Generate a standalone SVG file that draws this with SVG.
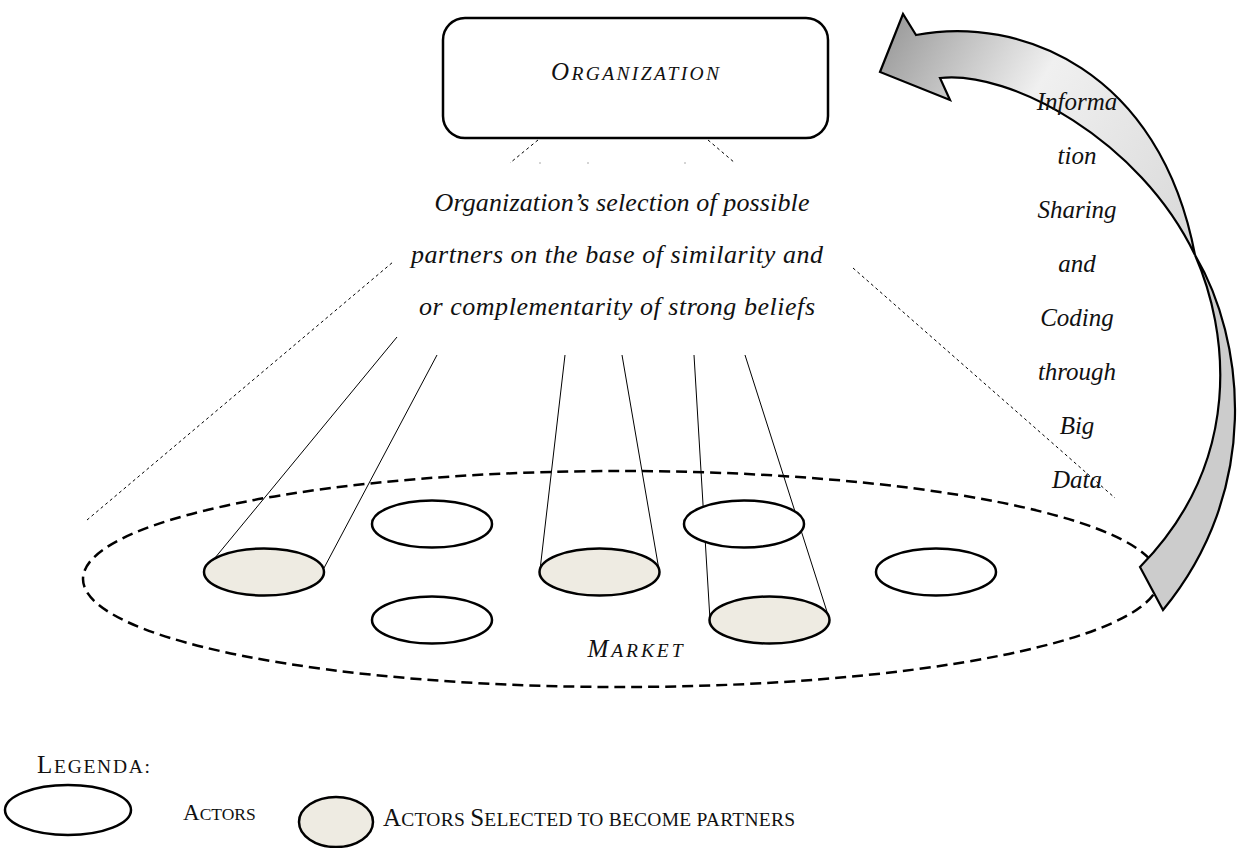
<svg xmlns="http://www.w3.org/2000/svg" width="1240" height="848" viewBox="0 0 1240 848">
<defs>
<linearGradient id="arrowGrad" gradientUnits="userSpaceOnUse" x1="880" y1="60" x2="1195" y2="255">
<stop offset="0" stop-color="#a0a0a0"/>
<stop offset="0.4" stop-color="#f0f0f0"/>
<stop offset="1" stop-color="#d8d8d8"/>
</linearGradient>
<style>
.it{font-family:"Liberation Serif","Times New Roman",serif;font-style:italic;font-size:26px;fill:#111}
.col{font-size:25px}
.sc{font-family:"Liberation Serif","Times New Roman",serif;fill:#111}
.big{font-size:25px}
.sm{font-size:19.5px}
.big2{font-size:23px}
.sm2{font-size:17.5px}
.actor{fill:#fff;stroke:#000;stroke-width:2.5}
.sel{fill:#eeebe2;stroke:#000;stroke-width:2.5}
.solid{stroke:#000;stroke-width:1;fill:none}
.dot{stroke:#000;stroke-width:1;fill:none;stroke-dasharray:3 3}
.market{fill:none;stroke:#000;stroke-width:2.5;stroke-dasharray:11 6}
</style>
</defs>
<rect width="1240" height="848" fill="#fff"/>

<g id="connectors">
<line class="dot" x1="538" y1="140" x2="510" y2="163"/>
<line class="dot" x1="708" y1="140" x2="735" y2="163"/>
<line x1="539" y1="163" x2="541" y2="163" stroke="#aaa" stroke-width="1"/>
<line x1="587" y1="163" x2="589" y2="163" stroke="#aaa" stroke-width="1"/>
<line x1="684" y1="163" x2="686" y2="163" stroke="#aaa" stroke-width="1"/>
<line class="dot" x1="87" y1="520" x2="393" y2="262"/>
<line class="dot" x1="853" y1="268" x2="1115" y2="498"/>
<line class="solid" x1="397" y1="337" x2="205" y2="570"/>
<line class="solid" x1="437" y1="355" x2="324" y2="568"/>
<line class="solid" x1="565" y1="355" x2="540" y2="570"/>
<line class="solid" x1="622" y1="355" x2="659" y2="570"/>
<line class="solid" x1="694" y1="355" x2="710" y2="620"/>
<line class="solid" x1="745" y1="355" x2="829" y2="618"/>
</g>

<g id="organization">
<rect x="443" y="18" width="385" height="120" rx="22" ry="22" fill="#fff" stroke="#000" stroke-width="2.5"/>
<text class="sc" x="635" y="80" text-anchor="middle" font-style="italic" textLength="168" lengthAdjust="spacing"><tspan class="big">O</tspan><tspan class="sm">RGANIZATION</tspan></text>
</g>

<g id="selection-label">
<text class="it" x="622" y="211" text-anchor="middle" textLength="375" lengthAdjust="spacing">Organization’s selection of possible</text>
<text class="it" x="617" y="263" text-anchor="middle" textLength="412" lengthAdjust="spacing">partners on the base of similarity and</text>
<text class="it" x="617" y="315" text-anchor="middle" textLength="396" lengthAdjust="spacing">or complementarity of strong beliefs</text>
</g>

<g id="market">
<ellipse class="market" cx="621" cy="579" rx="538" ry="108"/>
<text class="sc" x="635" y="657" text-anchor="middle" font-style="italic" textLength="95" lengthAdjust="spacing"><tspan class="big">M</tspan><tspan class="sm">ARKET</tspan></text>
</g>

<g id="actor-1"><ellipse class="sel" cx="264" cy="572" rx="60" ry="23.5"/></g>
<g id="actor-2"><ellipse class="actor" cx="432" cy="524" rx="60" ry="23.5"/></g>
<g id="actor-3"><ellipse class="actor" cx="432" cy="620" rx="60" ry="23.5"/></g>
<g id="actor-4"><ellipse class="sel" cx="599.5" cy="572" rx="60" ry="23.5"/></g>
<g id="actor-5"><ellipse class="actor" cx="744" cy="524" rx="60" ry="23.5"/></g>
<g id="actor-6"><ellipse class="sel" cx="769.5" cy="620" rx="60" ry="23.5"/></g>
<g id="actor-7"><ellipse class="actor" cx="936" cy="572" rx="60" ry="23.5"/></g>

<g id="info-arrow">
<path d="M916,35 L903,14 L880,72 L950,100 L940,78 C1010,70 1140,140 1195,255 C1160,70 1020,15 916,35 Z" fill="url(#arrowGrad)" stroke="#000" stroke-width="2.2" stroke-linejoin="miter"/>
<path d="M1195,255 C1245,340 1262,490 1163,610 L1140,567 C1245,460 1228,330 1195,255 Z" fill="#cccccc" stroke="#000" stroke-width="2.2"/>
</g>

<g id="info-label">
<text class="it col" x="1077" y="110" text-anchor="middle">Informa</text>
<text class="it col" x="1077" y="164" text-anchor="middle">tion</text>
<text class="it col" x="1077" y="218" text-anchor="middle">Sharing</text>
<text class="it col" x="1077" y="272" text-anchor="middle">and</text>
<text class="it col" x="1077" y="326" text-anchor="middle">Coding</text>
<text class="it col" x="1077" y="380" text-anchor="middle">through</text>
<text class="it col" x="1077" y="434" text-anchor="middle">Big</text>
<text class="it col" x="1077" y="488" text-anchor="middle">Data</text>
</g>

<g id="legend">
<text class="sc" x="37" y="773" textLength="113" lengthAdjust="spacing"><tspan class="big">L</tspan><tspan class="sm">EGENDA:</tspan></text>
<ellipse class="actor" cx="68" cy="810" rx="63" ry="25"/>
<text class="sc" x="183" y="820"><tspan class="big2">A</tspan><tspan class="sm2">CTORS</tspan></text>
<ellipse class="sel" cx="336" cy="822" rx="37" ry="25"/>
<text class="sc" x="383" y="826" textLength="412" lengthAdjust="spacing"><tspan class="big">A</tspan><tspan class="sm">CTORS </tspan><tspan class="big">S</tspan><tspan class="sm">ELECTED TO BECOME PARTNERS</tspan></text>
</g>
</svg>
